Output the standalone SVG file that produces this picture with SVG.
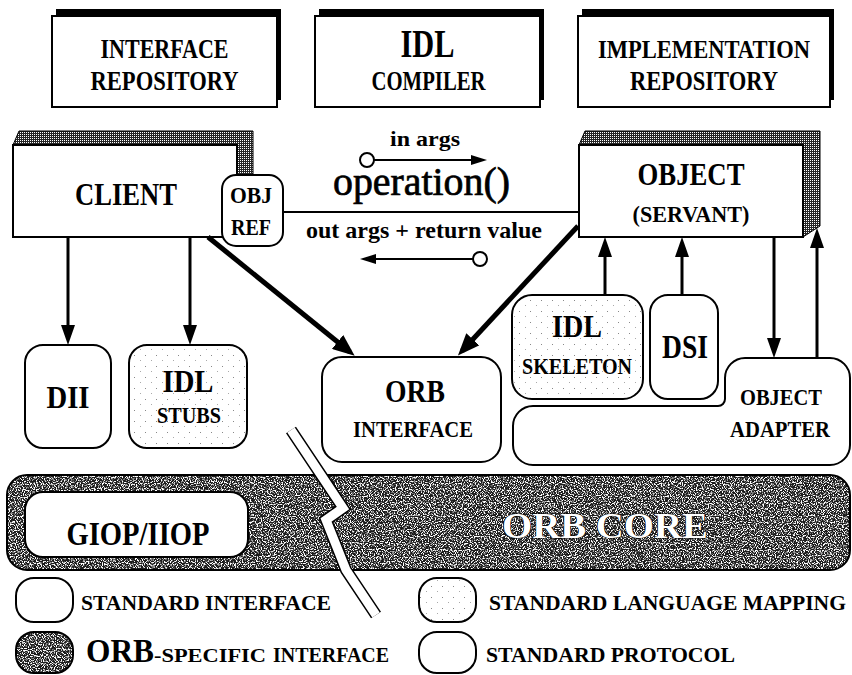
<svg xmlns="http://www.w3.org/2000/svg" width="852" height="675" viewBox="0 0 852 675">
  <defs>
    <!-- fine dither used on the raised edges of CLIENT and OBJECT -->
    <pattern id="dither" width="2" height="2" patternUnits="userSpaceOnUse">
      <rect width="2" height="2" fill="#262626"/>
      <rect width="1" height="1" fill="#ffffff"/>
    </pattern>
    <!-- white speckle laid over a dark fill for the ORB-specific parts -->
    <filter id="speck" x="0" y="0" width="1" height="1">
      <feTurbulence type="fractalNoise" baseFrequency="0.85" numOctaves="1" seed="7" result="n"/>
      <feColorMatrix in="n" type="matrix" values="0 0 0 0 1  0 0 0 0 1  0 0 0 0 1  7 0 0 0 -3.35" result="w"/>
      <feComposite in="w" in2="SourceGraphic" operator="in"/>
    </filter>
    <!-- sparse stipple for language-mapping parts -->
    <pattern id="stipple" width="11" height="11" patternUnits="userSpaceOnUse">
      <rect width="11" height="11" fill="#ffffff"/>
      <rect x="2" y="3" width="1" height="1" fill="#888"/>
      <rect x="8" y="8" width="1" height="1" fill="#aaa"/>
    </pattern>
    <marker id="ah" viewBox="0 0 20 14" refX="14" refY="7" markerWidth="20" markerHeight="14" markerUnits="userSpaceOnUse" orient="auto">
      <path d="M0,0 L20,7 L0,14 Z" fill="#000"/>
    </marker>
    <marker id="ahb" viewBox="0 0 22 18" refX="16" refY="9" markerWidth="22" markerHeight="18" markerUnits="userSpaceOnUse" orient="auto">
      <path d="M0,0 L22,9 L0,18 Z" fill="#000"/>
    </marker>
    <marker id="ahs" viewBox="0 0 16 10" refX="11" refY="5" markerWidth="16" markerHeight="10" markerUnits="userSpaceOnUse" orient="auto">
      <path d="M0,0 L16,5 L0,10 Z" fill="#000"/>
    </marker>
  </defs>
  <style>
    .box{fill:#fff;stroke:#000;stroke-width:2}
    .stip{fill:url(#stipple);stroke:#000;stroke-width:2}
    .darkfill{fill:#1c1c1c}
    .noise{fill:#fff;filter:url(#speck)}
    .outline{fill:none;stroke:#000;stroke-width:2}
    .shadow{fill:#000}
    .edge{fill:url(#dither);stroke:#000;stroke-width:1}
    .t{font-family:"Liberation Serif","Times New Roman",serif;font-weight:bold;text-anchor:middle;fill:#000}
    .s{font-family:"Liberation Serif","Times New Roman",serif;font-weight:bold;fill:#000}
    .wire{stroke:#000;stroke-width:3;fill:none}
    .heavy{stroke:#000;stroke-width:5;fill:none}
    .thin{stroke:#000;stroke-width:2;fill:none}
  </style>

  <rect width="852" height="675" fill="#fff"/>

  <!-- top row -->
  <g id="interface-repository">
    <rect class="shadow" x="56" y="9" width="225" height="91"/>
    <rect class="box" x="52" y="16" width="225" height="91"/>
    <text class="t" x="164.5" y="58" font-size="28" textLength="128" lengthAdjust="spacingAndGlyphs">INTERFACE</text>
    <text class="t" x="164.5" y="90" font-size="28" textLength="148" lengthAdjust="spacingAndGlyphs">REPOSITORY</text>
  </g>
  <g id="idl-compiler">
    <rect class="shadow" x="319" y="9" width="225" height="91"/>
    <rect class="box" x="315" y="16" width="225" height="91"/>
    <text class="t" x="427.5" y="57" font-size="39" textLength="54" lengthAdjust="spacingAndGlyphs">IDL</text>
    <text class="t" x="428.5" y="90" font-size="28" textLength="114" lengthAdjust="spacingAndGlyphs">COMPILER</text>
  </g>
  <g id="implementation-repository">
    <rect class="shadow" x="582" y="9" width="252" height="91"/>
    <rect class="box" x="578" y="16" width="252" height="91"/>
    <text class="t" x="704" y="58" font-size="26" textLength="212" lengthAdjust="spacingAndGlyphs">IMPLEMENTATION</text>
    <text class="t" x="704" y="90" font-size="28" textLength="148" lengthAdjust="spacingAndGlyphs">REPOSITORY</text>
  </g>

  <!-- client and object -->
  <g id="client">
    <polygon class="edge" points="13,145 19,131 253,131 253,226 237,237 237,145"/>
    <rect class="box" x="13" y="145" width="224" height="92"/>
    <text class="t" x="126" y="205" font-size="32" textLength="102" lengthAdjust="spacingAndGlyphs">CLIENT</text>
  </g>
  <g id="obj-ref">
    <rect class="box" x="222" y="175" width="61" height="71" rx="14"/>
    <text class="t" x="251" y="203" font-size="24" textLength="42" lengthAdjust="spacingAndGlyphs">OBJ</text>
    <text class="t" x="251" y="235" font-size="24" textLength="40" lengthAdjust="spacingAndGlyphs">REF</text>
  </g>
  <g id="object">
    <polygon class="edge" points="579,145 585,131 820,131 820,226 803,237 803,145"/>
    <rect class="box" x="579" y="145" width="224" height="92"/>
    <text class="t" x="691" y="185" font-size="32" textLength="107" lengthAdjust="spacingAndGlyphs">OBJECT</text>
    <text class="t" x="691" y="222" font-size="24" textLength="117" lengthAdjust="spacingAndGlyphs">(SERVANT)</text>
  </g>

  <!-- interfaces -->
  <g id="dii">
    <rect class="box" x="25" y="345" width="86" height="103" rx="18"/>
    <text class="t" x="68" y="408" font-size="31" textLength="43" lengthAdjust="spacingAndGlyphs">DII</text>
  </g>
  <g id="idl-stubs">
    <rect class="stip" x="129" y="345" width="118" height="103" rx="18"/>
    <text class="t" x="188" y="392" font-size="32" textLength="51" lengthAdjust="spacingAndGlyphs">IDL</text>
    <text class="t" x="189" y="423" font-size="23" textLength="64" lengthAdjust="spacingAndGlyphs">STUBS</text>
  </g>
  <g id="orb-interface">
    <rect class="box" x="322" y="357" width="179" height="105" rx="20"/>
    <text class="t" x="415" y="402" font-size="31" textLength="60" lengthAdjust="spacingAndGlyphs">ORB</text>
    <text class="t" x="413" y="437" font-size="23" textLength="120" lengthAdjust="spacingAndGlyphs">INTERFACE</text>
  </g>
  <g id="idl-skeleton">
    <rect class="stip" x="512" y="295" width="131" height="104" rx="20"/>
    <text class="t" x="577" y="337" font-size="32" textLength="50" lengthAdjust="spacingAndGlyphs">IDL</text>
    <text class="t" x="577" y="374" font-size="24" textLength="110" lengthAdjust="spacingAndGlyphs">SKELETON</text>
  </g>
  <g id="dsi">
    <rect class="box" x="650" y="295" width="68" height="104" rx="18"/>
    <text class="t" x="685" y="358" font-size="33" textLength="46" lengthAdjust="spacingAndGlyphs">DSI</text>
  </g>
  <g id="object-adapter">
    <path class="box" d="M533 406 H718 A7 7 0 0 0 725 399 V378 A20 20 0 0 1 745 358 H830 A20 20 0 0 1 850 378 V445 A20 20 0 0 1 830 465 H533 A20 20 0 0 1 513 445 V426 A20 20 0 0 1 533 406 Z"/>
    <text class="t" x="781" y="405" font-size="23" textLength="82" lengthAdjust="spacingAndGlyphs">OBJECT</text>
    <text class="t" x="780" y="437" font-size="23" textLength="100" lengthAdjust="spacingAndGlyphs">ADAPTER</text>
  </g>

  <!-- ORB core -->
  <g id="orb-core">
    <rect class="darkfill" x="7" y="475" width="843" height="95" rx="20"/>
    <rect class="noise" x="7" y="475" width="843" height="95" rx="20"/>
    <rect class="outline" x="7" y="475" width="843" height="95" rx="20"/>
    <text x="605" y="538" font-family="'Liberation Serif','Times New Roman',serif" font-weight="bold" font-size="36" text-anchor="middle" fill="#fff" stroke="#000" stroke-width="1.2" paint-order="stroke" textLength="206" lengthAdjust="spacingAndGlyphs">ORB CORE</text>
  </g>
  <g id="giop-iiop">
    <rect class="box" x="25" y="492" width="223" height="65" rx="18"/>
    <text class="t" x="138" y="545" font-size="34" textLength="143" lengthAdjust="spacingAndGlyphs">GIOP/IIOP</text>
  </g>

  <!-- break marker across the core -->
  <g id="break">
    <polyline points="291,430 343,508 326,520 346,570 376,615" fill="none" stroke="#000" stroke-width="12" stroke-linejoin="miter"/>
    <polyline points="291,430 343,508 326,520 346,570 376,615" fill="none" stroke="#fff" stroke-width="9" stroke-linejoin="miter"/>
  </g>

  <!-- connectors -->
  <g id="connectors">
    <line class="thin" x1="283" y1="212" x2="579" y2="212"/>
    <line class="thin" x1="374" y1="160" x2="482" y2="160" marker-end="url(#ahs)"/>
    <circle cx="367" cy="160" r="7" fill="#fff" stroke="#000" stroke-width="2"/>
    <line class="thin" x1="473" y1="259" x2="365" y2="259" marker-end="url(#ahs)"/>
    <circle cx="480" cy="259" r="7" fill="#fff" stroke="#000" stroke-width="2"/>

    <line class="wire" x1="68" y1="237" x2="68" y2="339" marker-end="url(#ah)"/>
    <line class="wire" x1="190" y1="237" x2="190" y2="339" marker-end="url(#ah)"/>
    <line class="heavy" x1="208" y1="237" x2="350" y2="352" marker-end="url(#ahb)"/>
    <line class="heavy" x1="578" y1="226" x2="462" y2="351" marker-end="url(#ahb)"/>

    <line class="wire" x1="605" y1="295" x2="605" y2="243" marker-end="url(#ah)"/>
    <line class="wire" x1="682" y1="295" x2="682" y2="243" marker-end="url(#ah)"/>
    <line class="wire" x1="774" y1="237" x2="774" y2="352" marker-end="url(#ah)"/>
    <line class="wire" x1="817" y1="358" x2="817" y2="234" marker-end="url(#ah)"/>
  </g>

  <!-- operation labels -->
  <g id="operation">
    <text class="t" x="425" y="146" font-size="22" textLength="70" lengthAdjust="spacingAndGlyphs">in args</text>
    <text x="421.5" y="195" font-family="'Liberation Serif','Times New Roman',serif" font-size="40" text-anchor="middle" stroke="#000" stroke-width="0.7" textLength="177" lengthAdjust="spacingAndGlyphs">operation()</text>
    <text class="t" x="424" y="238" font-size="23" textLength="236" lengthAdjust="spacingAndGlyphs">out  args + return  value</text>
  </g>

  <!-- legend -->
  <g id="legend">
    <rect class="box" x="16" y="578" width="57" height="44" rx="18"/>
    <text class="s" x="81" y="610" font-size="22" textLength="250" lengthAdjust="spacingAndGlyphs">STANDARD INTERFACE</text>
    <rect class="stip" x="419" y="578" width="57" height="44" rx="18"/>
    <text class="s" x="489" y="610" font-size="21.5" textLength="357" lengthAdjust="spacingAndGlyphs">STANDARD LANGUAGE MAPPING</text>
    <rect class="darkfill" x="16" y="632" width="57" height="41" rx="18"/>
    <rect class="noise" x="16" y="632" width="57" height="41" rx="18"/>
    <rect class="outline" x="16" y="632" width="57" height="41" rx="18"/>
    <text class="s" x="86" y="662" font-size="34" textLength="68" lengthAdjust="spacingAndGlyphs">ORB</text>
    <text class="s" x="154" y="662" font-size="19" textLength="112" lengthAdjust="spacingAndGlyphs">-SPECIFIC</text>
    <text class="s" x="273" y="662" font-size="22" textLength="116" lengthAdjust="spacingAndGlyphs">INTERFACE</text>
    <rect class="box" x="419" y="632" width="57" height="41" rx="18"/>
    <text class="s" x="486" y="662" font-size="22" textLength="249" lengthAdjust="spacingAndGlyphs">STANDARD PROTOCOL</text>
  </g>
</svg>
